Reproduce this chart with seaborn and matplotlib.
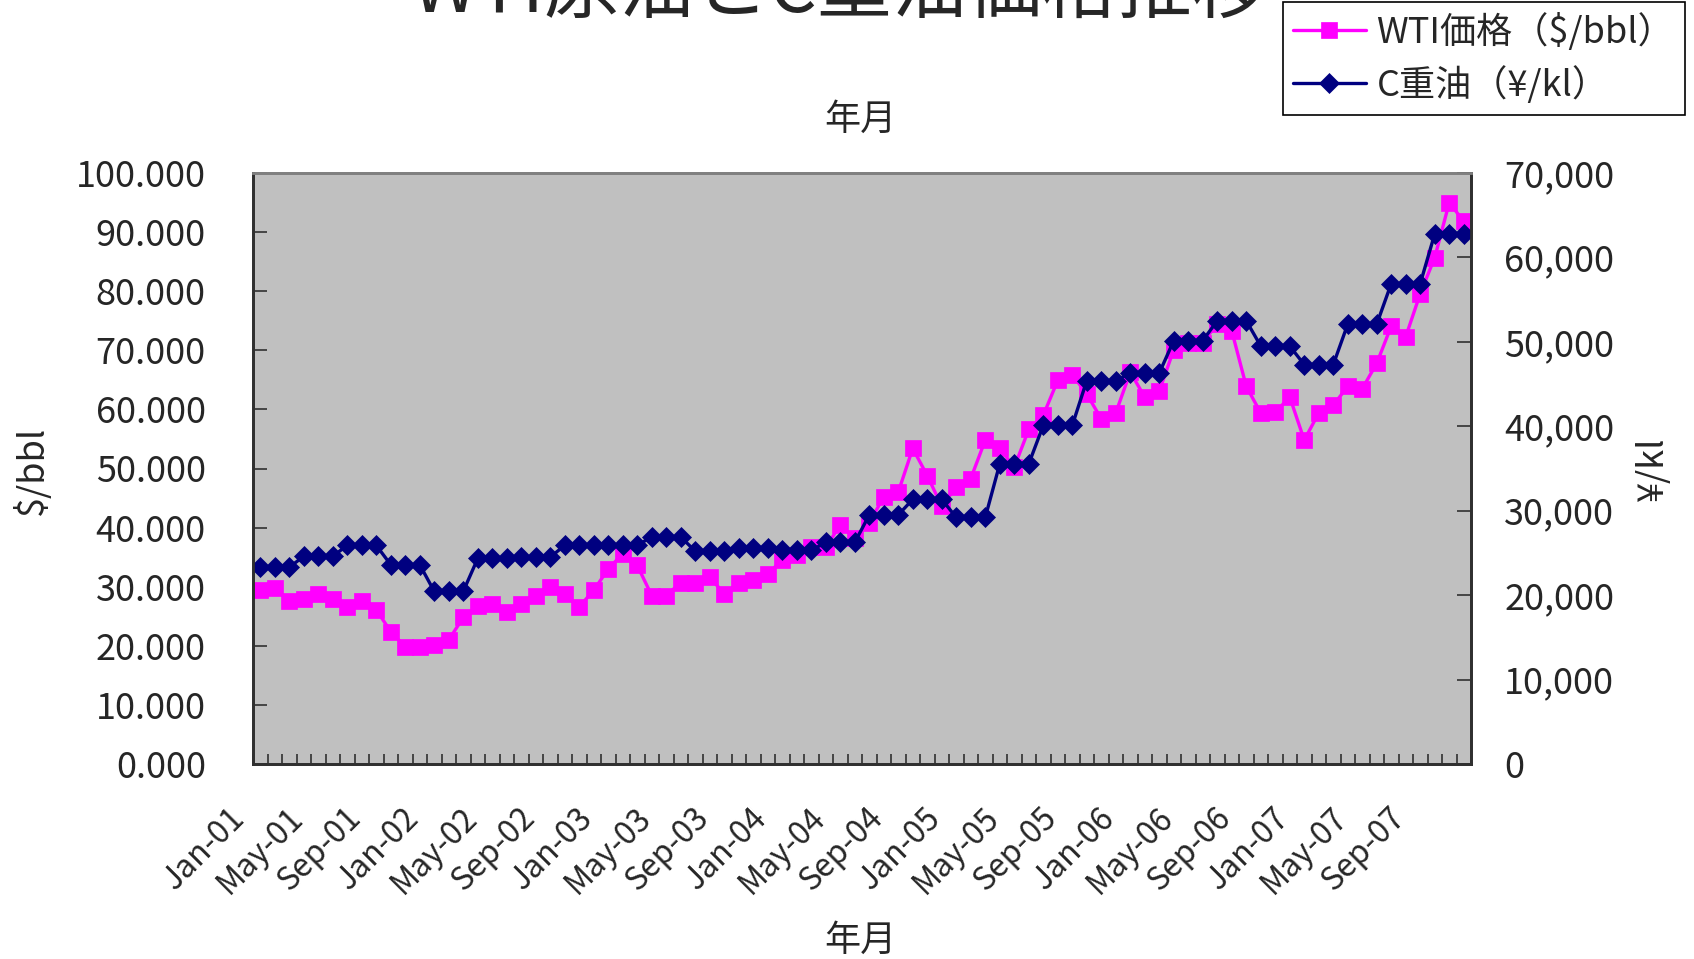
import matplotlib
matplotlib.use("Agg")
import matplotlib.pyplot as plt
from matplotlib.ticker import FixedLocator, FuncFormatter, MultipleLocator
from matplotlib.transforms import ScaledTranslation
import numpy as np
import pandas as pd
import seaborn as sns

# Monthly WTI crude price (US$/bbl), Jan 2001 - Dec 2007
wti_usd_bbl = [29.4, 29.8, 27.5, 27.9, 28.8, 27.9, 26.6, 27.5, 26.1, 22.4, 19.8, 19.8,
               20.2, 21.0, 24.8, 26.8, 27.0, 25.7, 27.1, 28.5, 29.9, 28.8, 26.6, 29.4,
               33.0, 35.6, 33.6, 28.5, 28.5, 30.7, 30.7, 31.6, 28.8, 30.7, 31.2, 32.1,
               34.6, 35.3, 36.7, 36.7, 40.4, 38.2, 40.8, 45.2, 46.0, 53.4, 48.8, 43.6,
               46.9, 48.3, 54.8, 53.4, 50.2, 56.6, 59.0, 64.9, 65.9, 62.6, 58.4, 59.4,
               66.3, 62.1, 63.1, 70.1, 71.3, 71.3, 74.5, 73.3, 63.9, 59.4, 59.5, 62.1,
               54.8, 59.4, 60.7, 63.9, 63.5, 67.8, 74.1, 72.3, 79.6, 85.7, 95.0, 91.8]

# Monthly C heavy fuel oil price (yen/kl), same months
c_heavy_yen_kl = [23300, 23300, 23300, 24600, 24600, 24600, 25900, 25900, 25900, 23600, 23600, 23600,
                  20450, 20450, 20450, 24350, 24350, 24350, 24500, 24500, 24500, 25900, 25900, 25900,
                  25900, 25900, 25900, 26900, 26900, 26900, 25200, 25200, 25200, 25600, 25600, 25600,
                  25300, 25300, 25300, 26250, 26250, 26250, 29500, 29500, 29500, 31350, 31350, 31350,
                  29200, 29200, 29200, 35550, 35550, 35550, 40100, 40100, 40100, 45400, 45400, 45400,
                  46300, 46300, 46300, 50150, 50150, 50150, 52500, 52500, 52500, 49500, 49500, 49500,
                  47300, 47300, 47300, 52100, 52100, 52100, 56900, 56900, 56900, 62800, 62800, 62800]

tick_labels = ["Jan-01", "May-01", "Sep-01", "Jan-02", "May-02", "Sep-02", "Jan-03",
               "May-03", "Sep-03", "Jan-04", "May-04", "Sep-04", "Jan-05", "May-05",
               "Sep-05", "Jan-06", "May-06", "Sep-06", "Jan-07", "May-07", "Sep-07"]

series_names = ["WTI価格（$/bbl）", "C重油（¥/kl）"]

sns.set_style("white")
plt.rcParams["font.family"] = ["Noto Sans CJK JP", "DejaVu Sans"]

W, H = 1694, 959
fig = plt.figure(figsize=(W / 100, H / 100), dpi=100)
left, right, top, bottom = 253, 1471, 173, 764
ax = fig.add_axes([left / W, 1 - bottom / H, (right - left) / W, (bottom - top) / H])
ax.set_facecolor("#C0C0C0")

df = pd.DataFrame({"month": np.arange(len(wti_usd_bbl)),
                   "wti": wti_usd_bbl,
                   "c_heavy": c_heavy_yen_kl})

sns.lineplot(data=df, x="month", y="wti", ax=ax, color="#FF00FF", linewidth=2.4,
             marker="s", markersize=12, markeredgecolor="#FF00FF", markeredgewidth=0.5)
ax2 = ax.twinx()
sns.lineplot(data=df, x="month", y="c_heavy", ax=ax2, color="#000080", linewidth=2.4,
             marker="D", markersize=10.5, markeredgecolor="#000080", markeredgewidth=0.5)

n = len(wti_usd_bbl)
ax.set_xlim(-0.5, n - 0.5)
ax.set_ylim(0, 100)
ax2.set_ylim(0, 70000)

FS = 26
# category axis: labels every 4 months, tick marks on the category boundaries
ax.set_xticks(np.arange(0, n, 4))
ax.set_xticklabels(tick_labels, rotation=45, ha="right", va="bottom",
                   rotation_mode="anchor", fontsize=23)
ax.xaxis.set_minor_locator(FixedLocator(np.arange(-0.5, n, 1)))
ax.tick_params(axis="x", which="major", length=0, pad=47)
ax.tick_params(axis="x", which="minor", length=7, width=1.2, direction="in",
               color="#303030", bottom=True)
# nudge the slanted month labels a little to the left and up
shift = ScaledTranslation(-9 / 100, 5 / 100, fig.dpi_scale_trans)
for lab in ax.get_xticklabels():
    lab.set_transform(lab.get_transform() + shift)

ax.yaxis.set_major_locator(MultipleLocator(10))
ax.yaxis.set_major_formatter(FuncFormatter(lambda v, p: f"{v:.3f}"))
ax.tick_params(axis="y", which="major", length=10, width=1.2, direction="in",
               color="#303030", labelsize=FS, pad=34)

ax2.yaxis.set_major_locator(MultipleLocator(10000))
ax2.yaxis.set_major_formatter(FuncFormatter(lambda v, p: f"{int(v):,}"))
ax2.tick_params(axis="y", which="major", length=10, width=1.2, direction="in",
                color="#303030", labelsize=FS, pad=24)

for a in (ax, ax2):
    a.set_xlabel("")
    a.set_ylabel("")
    for side in ("left", "right", "bottom"):
        a.spines[side].set_color("#303030")
        a.spines[side].set_linewidth(2)
    a.spines["top"].set_color("#808080")
    a.spines["top"].set_linewidth(2)

# titles and axis names
fig.text(839 / W, 1 - 12 / H, "WTI原油とC重油価格推移", fontsize=54,
         ha="center", va="baseline")
fig.text(860 / W, 1 - 120 / H, "年月", fontsize=FS, ha="center", va="center")
fig.text(860 / W, 1 - 941 / H, "年月", fontsize=FS, ha="center", va="center")
fig.text(32 / W, 1 - 470 / H, "$/bbl", fontsize=FS, rotation=90,
         ha="center", va="center")
fig.text(1653 / W, 1 - 470 / H, "¥/kl", fontsize=FS, rotation=90,
         ha="center", va="center")

handles = [ax.get_lines()[0], ax2.get_lines()[0]]
leg = ax.legend(handles, series_names, loc="upper right",
                bbox_to_anchor=(1685 / W, 1 - 2 / H), bbox_transform=fig.transFigure,
                borderaxespad=0, fancybox=False, framealpha=1, edgecolor="#000000",
                fontsize=FS, handlelength=2.0, handletextpad=0.3,
                labelspacing=0.42, borderpad=0.3)
leg.get_frame().set_linewidth(1.2)
leg.set_zorder(10)

fig.savefig("out.png", dpi=100)
